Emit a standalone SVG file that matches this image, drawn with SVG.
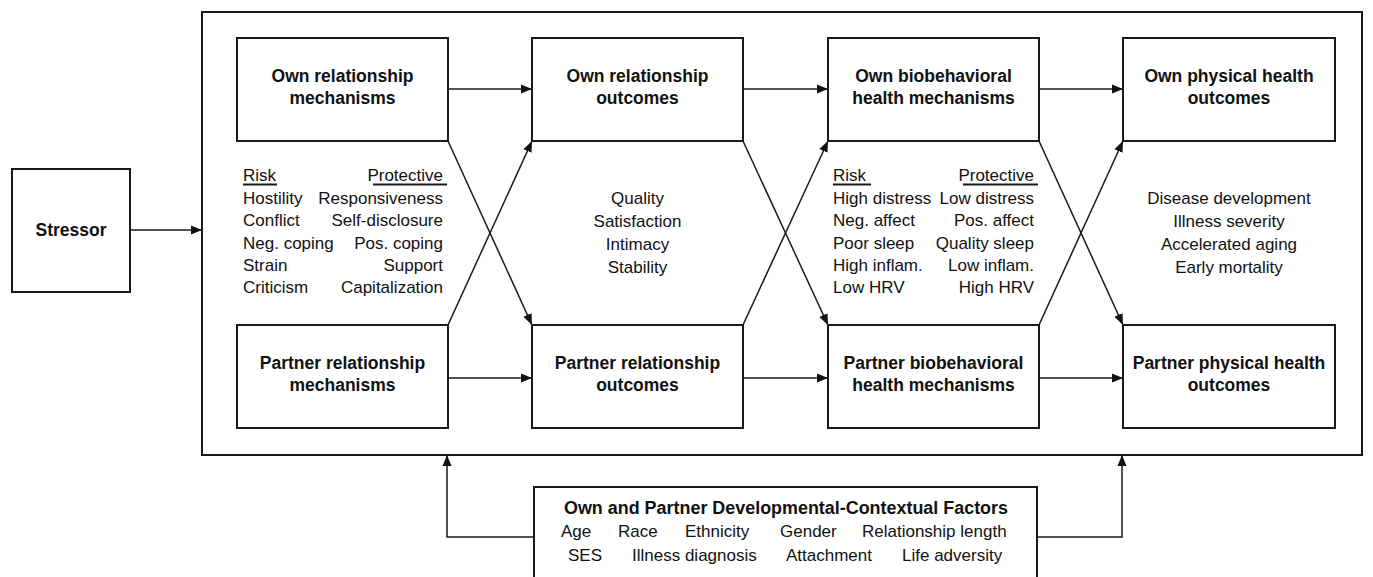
<svg xmlns="http://www.w3.org/2000/svg" width="1373" height="577" viewBox="0 0 1373 577">
<style>
  .box{fill:#fff;stroke:#1a1a1a;stroke-width:2}
  .t{font-family:"Liberation Sans",Arial,sans-serif;font-size:17.5px;font-weight:bold;fill:#111;text-anchor:middle}
  .b{font-family:"Liberation Sans",Arial,sans-serif;font-size:17px;fill:#111}
  .c{text-anchor:middle}
  .r{text-anchor:end}
  .ln{fill:none;stroke:#1a1a1a;stroke-width:1.5}
  .ul{stroke:#1a1a1a;stroke-width:2}
</style>
<defs>
  <marker id="ah" markerUnits="userSpaceOnUse" markerWidth="12" markerHeight="10" refX="11" refY="5" orient="auto">
    <path d="M0,0.5 L11,5 L0,9.5 z" fill="#111"/>
  </marker>
</defs>
<rect width="1373" height="577" fill="#fff"/>
<g id="frame"><rect class="box" x="202" y="12" width="1160" height="443"/></g>

<g id="stressor">
  <rect class="box" x="12" y="169" width="118" height="123"/>
  <text class="t" x="71" y="236">Stressor</text>
</g>

<g id="own-rel-mech">
  <rect class="box" x="237" y="38" width="211" height="103"/>
  <text class="t" x="342.5" y="82">Own relationship</text>
  <text class="t" x="342.5" y="104">mechanisms</text>
</g>
<g id="own-rel-out">
  <rect class="box" x="532" y="38" width="211" height="103"/>
  <text class="t" x="637.5" y="82">Own relationship</text>
  <text class="t" x="637.5" y="104">outcomes</text>
</g>
<g id="own-bio">
  <rect class="box" x="828" y="38" width="211" height="103"/>
  <text class="t" x="933.5" y="82">Own biobehavioral</text>
  <text class="t" x="933.5" y="104">health mechanisms</text>
</g>
<g id="own-health">
  <rect class="box" x="1123" y="38" width="212" height="103"/>
  <text class="t" x="1229" y="82">Own physical health</text>
  <text class="t" x="1229" y="104">outcomes</text>
</g>

<g id="partner-rel-mech">
  <rect class="box" x="237" y="325" width="211" height="103"/>
  <text class="t" x="342.5" y="369">Partner relationship</text>
  <text class="t" x="342.5" y="391">mechanisms</text>
</g>
<g id="partner-rel-out">
  <rect class="box" x="532" y="325" width="211" height="103"/>
  <text class="t" x="637.5" y="369">Partner relationship</text>
  <text class="t" x="637.5" y="391">outcomes</text>
</g>
<g id="partner-bio">
  <rect class="box" x="828" y="325" width="211" height="103"/>
  <text class="t" x="933.5" y="369">Partner biobehavioral</text>
  <text class="t" x="933.5" y="391">health mechanisms</text>
</g>
<g id="partner-health">
  <rect class="box" x="1123" y="325" width="212" height="103"/>
  <text class="t" x="1229" y="369">Partner physical health</text>
  <text class="t" x="1229" y="391">outcomes</text>
</g>

<g id="rel-mech-list">
  <text class="b" x="243" y="181">Risk</text>
  <line class="ul" x1="243" y1="184.5" x2="277" y2="184.5"/>
  <text class="b r" x="443" y="181">Protective</text>
  <line class="ul" x1="373" y1="184.5" x2="447" y2="184.5"/>
  <text class="b" x="243" y="204">Hostility</text>
  <text class="b" x="243" y="226">Conflict</text>
  <text class="b" x="243" y="249">Neg. coping</text>
  <text class="b" x="243" y="271">Strain</text>
  <text class="b" x="243" y="293">Criticism</text>
  <text class="b r" x="443" y="204">Responsiveness</text>
  <text class="b r" x="443" y="226">Self-disclosure</text>
  <text class="b r" x="443" y="249">Pos. coping</text>
  <text class="b r" x="443" y="271">Support</text>
  <text class="b r" x="443" y="293">Capitalization</text>
</g>

<g id="rel-out-list">
  <text class="b c" x="637.5" y="204">Quality</text>
  <text class="b c" x="637.5" y="227">Satisfaction</text>
  <text class="b c" x="637.5" y="250">Intimacy</text>
  <text class="b c" x="637.5" y="273">Stability</text>
</g>

<g id="bio-list">
  <text class="b" x="833" y="181">Risk</text>
  <line class="ul" x1="833" y1="184.5" x2="871" y2="184.5"/>
  <text class="b r" x="1034" y="181">Protective</text>
  <line class="ul" x1="963" y1="184.5" x2="1038" y2="184.5"/>
  <text class="b" x="833" y="204">High distress</text>
  <text class="b" x="833" y="226">Neg. affect</text>
  <text class="b" x="833" y="249">Poor sleep</text>
  <text class="b" x="833" y="271">High inflam.</text>
  <text class="b" x="833" y="293">Low HRV</text>
  <text class="b r" x="1034" y="204">Low distress</text>
  <text class="b r" x="1034" y="226">Pos. affect</text>
  <text class="b r" x="1034" y="249">Quality sleep</text>
  <text class="b r" x="1034" y="271">Low inflam.</text>
  <text class="b r" x="1034" y="293">High HRV</text>
</g>

<g id="health-list">
  <text class="b c" x="1229" y="204">Disease development</text>
  <text class="b c" x="1229" y="227">Illness severity</text>
  <text class="b c" x="1229" y="250">Accelerated aging</text>
  <text class="b c" x="1229" y="273">Early mortality</text>
</g>

<g id="factors">
  <rect class="box" x="534" y="487" width="503" height="100"/>
  <text class="t" x="786" y="514" textLength="444" lengthAdjust="spacingAndGlyphs">Own and Partner Developmental-Contextual Factors</text>
  <text class="b" y="537"><tspan x="561">Age</tspan><tspan x="618">Race</tspan><tspan x="685">Ethnicity</tspan><tspan x="780">Gender</tspan><tspan x="862">Relationship length</tspan></text>
  <text class="b" y="561"><tspan x="568">SES</tspan><tspan x="632">Illness diagnosis</tspan><tspan x="786">Attachment</tspan><tspan x="902">Life adversity</tspan></text>
</g>

<g id="connectors">
  <line class="ln" x1="130" y1="230" x2="202" y2="230" marker-end="url(#ah)"/>
  <line class="ln" x1="448" y1="89" x2="532" y2="89" marker-end="url(#ah)"/>
  <line class="ln" x1="743" y1="89" x2="828" y2="89" marker-end="url(#ah)"/>
  <line class="ln" x1="1039" y1="89" x2="1123" y2="89" marker-end="url(#ah)"/>
  <line class="ln" x1="448" y1="378" x2="532" y2="378" marker-end="url(#ah)"/>
  <line class="ln" x1="743" y1="378" x2="828" y2="378" marker-end="url(#ah)"/>
  <line class="ln" x1="1039" y1="378" x2="1123" y2="378" marker-end="url(#ah)"/>
  <line class="ln" x1="448" y1="141" x2="532" y2="325" marker-end="url(#ah)"/>
  <line class="ln" x1="448" y1="325" x2="532" y2="141" marker-end="url(#ah)"/>
  <line class="ln" x1="743" y1="141" x2="828" y2="325" marker-end="url(#ah)"/>
  <line class="ln" x1="743" y1="325" x2="828" y2="141" marker-end="url(#ah)"/>
  <line class="ln" x1="1039" y1="141" x2="1123" y2="325" marker-end="url(#ah)"/>
  <line class="ln" x1="1039" y1="325" x2="1123" y2="141" marker-end="url(#ah)"/>
  <polyline class="ln" points="534,537 447,537 447,455" marker-end="url(#ah)"/>
  <polyline class="ln" points="1037,537 1122,537 1122,455" marker-end="url(#ah)"/>
</g>
</svg>
